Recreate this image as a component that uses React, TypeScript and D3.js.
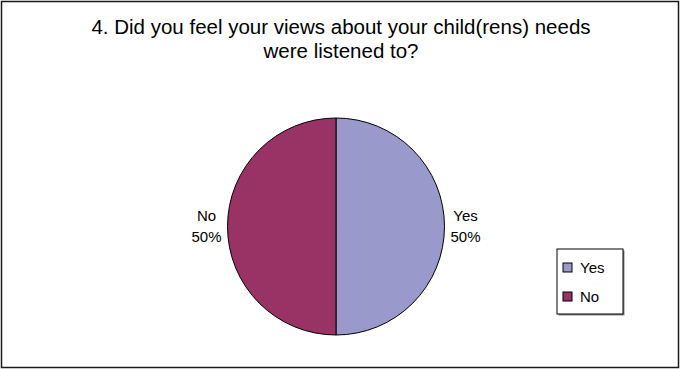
import React from "react";
import * as d3 from "d3";

const categories = ["Yes", "No"];
const values = [50, 50];
const colors = ["#9999CC", "#993366"];
const titleLines = ["4. Did you feel your views about your child(rens) needs", "were listened to?"];

const W = 680;
const H = 369;
const FONT = "'Liberation Sans', Arial, sans-serif";

export default function App() {
  const cx = 336;
  const cy = 226.5;
  const r = 108.5;
  const data = categories.map((c, i) => ({ name: c, value: values[i], color: colors[i] }));
  const total = d3.sum(values);
  const pie = d3.pie<any>().sort(null).value((d: any) => d.value);
  const arcs = pie(data);
  const arc = d3.arc<any>().innerRadius(0).outerRadius(r);
  const labelArc = d3.arc<any>().innerRadius(129.5).outerRadius(129.5);
  const fmt = d3.format(".0%");

  return (
    <svg width={W} height={H} style={{ position: "absolute", left: 0, top: 0 }} fontFamily={FONT}>
      <rect x={0} y={0} width={W} height={H} fill="#fff" />
      <rect x={1.5} y={1.5} width={677} height={366} fill="none" stroke="#1a1a1a" strokeWidth={1.5} />
      <text textAnchor="middle" fontSize={20.5} fill="#000">
        {titleLines.map((t, i) => (
          <tspan key={i} x={341} y={34 + i * 24}>{t}</tspan>
        ))}
      </text>
      <g transform={`translate(${cx},${cy})`}>
        {arcs.map((a, i) => (
          <path key={i} d={arc(a) as string} fill={a.data.color} stroke="#000" strokeWidth={1} />
        ))}
        {arcs.map((a, i) => {
          const [lx, ly] = labelArc.centroid(a);
          return (
            <text key={"l" + i} textAnchor="middle" fontSize={15} fill="#000">
              <tspan x={lx} y={ly - 6}>{a.data.name}</tspan>
              <tspan x={lx} y={ly + 15.5}>{fmt(a.data.value / total)}</tspan>
            </text>
          );
        })}
      </g>
      <g>
        <rect x={558.5} y={250.5} width={66} height={65} fill="#888" />
        <rect x={557} y={249} width={66} height={65} fill="#fff" stroke="#000" strokeWidth={1} />
        {data.map((d, i) => (
          <g key={i} transform={`translate(563,${263 + i * 29})`}>
            <rect x={0} y={0} width={9} height={9} fill={d.color} stroke="#000" strokeWidth={1} />
            <text x={17} y={10} fontSize={15} fill="#000">{d.name}</text>
          </g>
        ))}
      </g>
    </svg>
  );
}
